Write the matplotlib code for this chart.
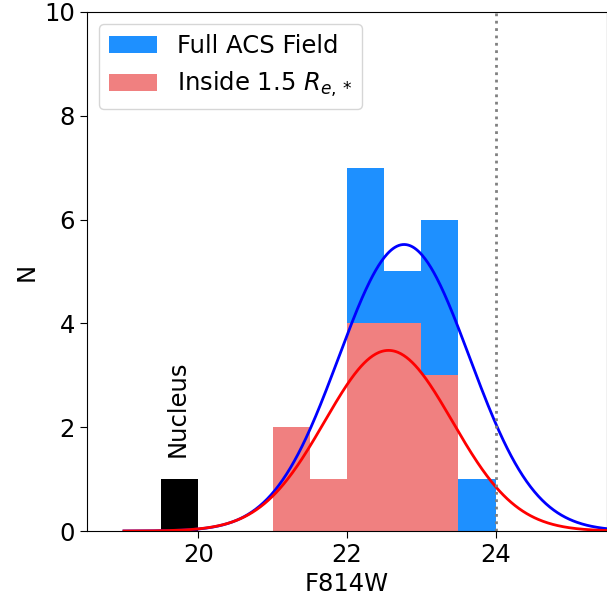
import numpy as np
import matplotlib
matplotlib.use("Agg")
import matplotlib.pyplot as plt

# histogram bins (F814W), width 0.5
bin_left = [21.0, 21.5, 22.0, 22.5, 23.0, 23.5]
full_counts = [2, 1, 7, 5, 6, 1]
inside_counts = [2, 1, 4, 4, 3, 0]
nucleus_left = 19.5
nucleus_count = 1

# gaussian fits: amplitude, mean, sigma
full_fit = (5.52, 22.77, 0.88)
inside_fit = (3.48, 22.56, 0.86)

limit_mag = 24.0

plt.rcParams['font.size'] = 17.5
plt.rcParams['xtick.major.size'] = 5
plt.rcParams['ytick.major.size'] = 5

fig = plt.figure(figsize=(6.07, 5.98), dpi=100)
ax = fig.add_axes([0.143, 0.112, 0.857, 0.868])

ax.bar(bin_left, full_counts, width=0.5, align='edge', color='dodgerblue',
       label='Full ACS Field')
ax.bar(bin_left, inside_counts, width=0.5, align='edge', color='lightcoral',
       label=r'Inside 1.5 $R_{e,*}$')
ax.bar([nucleus_left], [nucleus_count], width=0.5, align='edge', color='black')

xx = np.linspace(19.0, 25.5, 500)
def gauss(x, p):
    a, m, s = p
    return a * np.exp(-(x - m) ** 2 / (2 * s ** 2))

ax.plot(xx, gauss(xx, full_fit), color='blue', lw=2)
ax.plot(xx, gauss(xx, inside_fit), color='red', lw=2)

ax.axvline(limit_mag, color='gray', ls=':', lw=2)

ax.text(19.72, 1.42, 'Nucleus', rotation=90, ha='center', va='bottom')

ax.set_xlim(18.5, 25.5)
ax.set_ylim(0, 10)
ax.set_xticks([20, 22, 24])
ax.set_xlabel('F814W')
ax.set_ylabel('N')
ax.legend(loc='upper left')

fig.savefig('out.png', dpi=100)
